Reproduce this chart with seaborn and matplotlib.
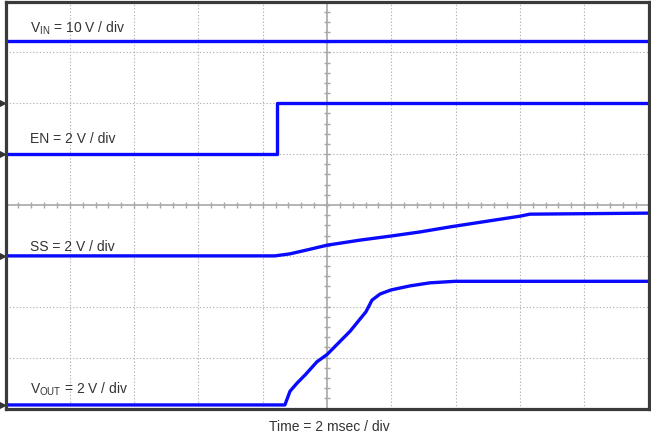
import numpy as np
import pandas as pd
import matplotlib
matplotlib.use("Agg")
import matplotlib.pyplot as plt
import seaborn as sns

sns.set_theme(style="white")
plt.rcParams['font.family'] = ['Liberation Sans', 'DejaVu Sans']
plt.rcParams['mathtext.fontset'] = 'custom'
plt.rcParams['mathtext.rm'] = 'Liberation Sans'

# ---- data (time in ms, amplitude in screen divisions) ----
vin_t = [-10, 10]
vin_y = [7.22, 7.22]

en_t = [-10, -1.54, -1.54, 10]
en_y = [5.0, 5.0, 6.0, 6.0]

ss_t = [-10, -1.62, -1.15, -0.53, 0, 1.03, 1.99, 2.89, 3.83, 4.76, 5.38, 6.0, 6.31, 10]
ss_y = [3.0, 3.0, 3.04, 3.13, 3.21, 3.31, 3.39, 3.47, 3.57, 3.66, 3.72, 3.78, 3.82, 3.84]

vout_t = [-10, -1.31, -1.15, -0.93, -0.68, -0.31, 0, 0.72, 1.21, 1.40, 1.65, 1.99, 2.58, 3.20, 3.98, 10]
vout_y = [0.07, 0.07, 0.34, 0.50, 0.66, 0.92, 1.06, 1.52, 1.90, 2.13, 2.25, 2.33, 2.41, 2.47, 2.50, 2.50]

ground_levels = [6.0, 5.0, 3.0, 0.07]

labels = [r"V$_{\mathregular{IN}}$ = 10 V / div", "EN = 2 V / div",
          "SS = 2 V / div", r"V$_{\mathregular{OUT}}$ = 2 V / div"]
label_y = [7.38, 5.22, 3.09, 0.30]
xlabel = "Time = 2 msec / div"

frames = []
for name, t, y in [("VIN", vin_t, vin_y), ("EN", en_t, en_y),
                   ("SS", ss_t, ss_y), ("VOUT", vout_t, vout_y)]:
    frames.append(pd.DataFrame({"t": t, "y": y, "ch": name, "i": range(len(t))}))
df = pd.concat(frames, ignore_index=True)

fig = plt.figure(figsize=(6.51, 4.34), dpi=100)
ax = fig.add_axes([5.5 / 651, (434 - 408.5) / 434, 643 / 651, 407 / 434])
ax.set_xlim(-10, 10)
ax.set_ylim(0, 8)

# grid
gc = "#b4b4b4"
for xv in np.arange(-8, 10, 2):
    if xv == 0:
        continue
    ax.axvline(xv, color=gc, lw=0.8, ls=(0, (1.2, 1.8)), zorder=1)
for yv in np.arange(1, 8, 1):
    if yv == 4:
        continue
    ax.axhline(yv, color=gc, lw=0.8, ls=(0, (1.2, 1.8)), zorder=1)
ax.axvline(0, color="#a8a8a8", lw=1.2, zorder=1)
ax.axhline(4, color="#a8a8a8", lw=1.2, zorder=1)
# minor ticks on centre lines
mx = np.arange(-10, 10.01, 0.4)
my = np.arange(0, 8.01, 0.2)
ax.vlines(mx, 4 - 0.06, 4 + 0.06, color="#a8a8a8", lw=1.0, zorder=1)
ax.hlines(my, -0.1, 0.1, color="#a8a8a8", lw=1.0, zorder=1)

# traces
for name in ["VIN", "EN", "SS", "VOUT"]:
    sub = df[df.ch == name]
    sns.lineplot(data=sub, x="t", y="y", sort=False, estimator=None,
                 color="#0a0aff", lw=2.4, ax=ax, zorder=3)

# ground markers
for g in ground_levels:
    ax.plot([-10.12], [g], marker=">", color="#333333", ms=4, clip_on=False, zorder=5)

for lab, ly in zip(labels, label_y):
    ax.text(-9.24, ly, lab, fontsize=10, color="#333333", va="baseline", ha="left")

fig.text(329 / 651, (434 - 431) / 434, xlabel, fontsize=10, color="#333333",
         ha="center", va="baseline")

ax.set_xlabel("")
ax.set_ylabel("")
ax.set_xticks([])
ax.set_yticks([])
for s in ax.spines.values():
    s.set_color("#3a3a3a")
    s.set_linewidth(2.3)
    s.set_visible(True)
    s.set_zorder(6)

fig.savefig("out.png", dpi=100)
